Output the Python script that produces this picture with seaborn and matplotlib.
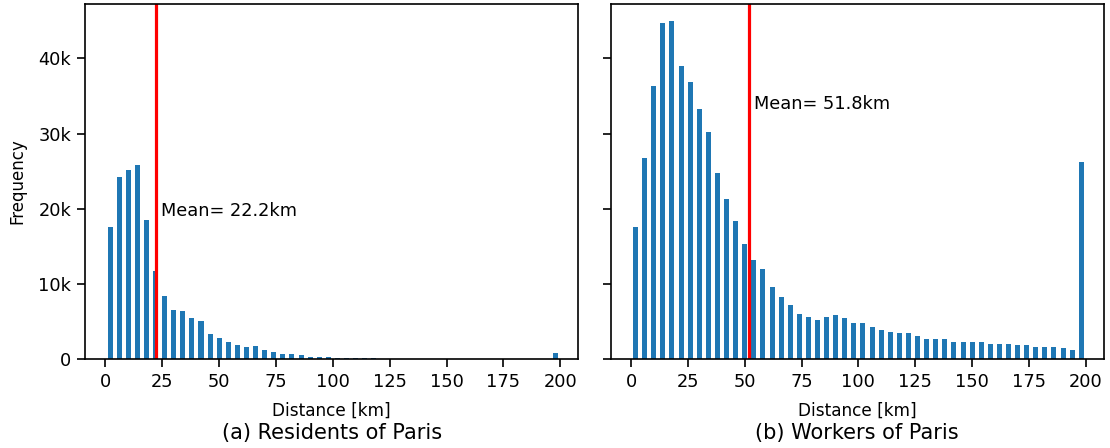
import numpy as np
import pandas as pd
import seaborn as sns
import matplotlib
matplotlib.use("Agg")
import matplotlib.pyplot as plt
from matplotlib.ticker import FuncFormatter

# bin centres of the 4 km histogram bins (0-200 km)
centers = list(range(2, 200, 4))

# counts per bin, in thousands
residents = [17.6, 24.2, 25.1, 25.8, 18.5, 11.7, 8.4, 6.5, 6.4, 5.4,
             5.0, 3.3, 2.8, 2.3, 1.9, 1.6, 1.7, 1.15, 0.85, 0.7,
             0.6, 0.45, 0.3, 0.2, 0.18, 0.16, 0.15, 0.15, 0.15, 0.15,
             0, 0, 0, 0, 0, 0, 0, 0, 0, 0,
             0, 0, 0, 0, 0, 0, 0, 0, 0, 0.75]
workers = [17.6, 26.8, 36.3, 44.7, 45.0, 39.0, 36.9, 33.3, 30.2, 24.8,
           21.3, 18.3, 15.3, 13.1, 12.0, 9.6, 8.3, 7.2, 6.0, 5.6,
           5.2, 5.6, 5.9, 5.4, 4.8, 4.8, 4.2, 3.9, 3.6, 3.5,
           3.4, 3.1, 2.7, 2.6, 2.6, 2.3, 2.2, 2.2, 2.2, 2.0,
           2.0, 2.0, 1.9, 1.9, 1.6, 1.6, 1.6, 1.4, 1.2, 26.2]
means = [22.2, 51.8]
captions = ["(a) Residents of Paris", "(b) Workers of Paris"]

plt.rcParams['font.family'] = ['DejaVu Sans']

fig, axes = plt.subplots(1, 2, figsize=(11.1, 4.48), dpi=100, sharey=True)
fig.subplots_adjust(left=0.0766, right=0.9946, top=0.991, bottom=0.199, wspace=0.065)

text_pos = [(24.5, 19700), (54.0, 34000)]
for ax, counts, mean, cap, tp in zip(axes, [residents, workers], means, captions, text_pos):
    df = pd.DataFrame({"distance": centers, "count": np.array(counts) * 1000})
    sns.histplot(data=df, x="distance", weights="count", binwidth=4, binrange=(0, 200),
                 shrink=0.55, color="#1f77b4", alpha=1, edgecolor="none", linewidth=0, ax=ax)
    ax.axvline(mean, color="red", linewidth=2.3)
    ax.text(tp[0], tp[1], "Mean= %.1fkm" % mean, fontsize=12.8, va="center", ha="left")
    ax.set_xlim(-9, 208)
    ax.set_ylim(0, 47250)
    ax.set_xticks(range(0, 201, 25))
    ax.set_yticks(range(0, 40001, 10000))
    ax.yaxis.set_major_formatter(FuncFormatter(lambda v, p: "0" if v == 0 else "%dk" % (v / 1000)))
    ax.tick_params(labelsize=12.8, length=5.5, width=1.2, pad=4.5)
    ax.set_xlabel("Distance [km]", fontsize=12.2)
    ax.xaxis.set_label_coords(0.5, -0.122)
    ax.set_ylabel("")
    for s in ax.spines.values():
        s.set_linewidth(1.2)
    ax.text(0.5, -0.208, cap, transform=ax.transAxes, ha="center", va="center", fontsize=15)

axes[0].set_ylabel("Frequency", fontsize=12)
axes[0].yaxis.set_label_coords(-0.118, 0.5)

fig.savefig("out.png", dpi=100)
